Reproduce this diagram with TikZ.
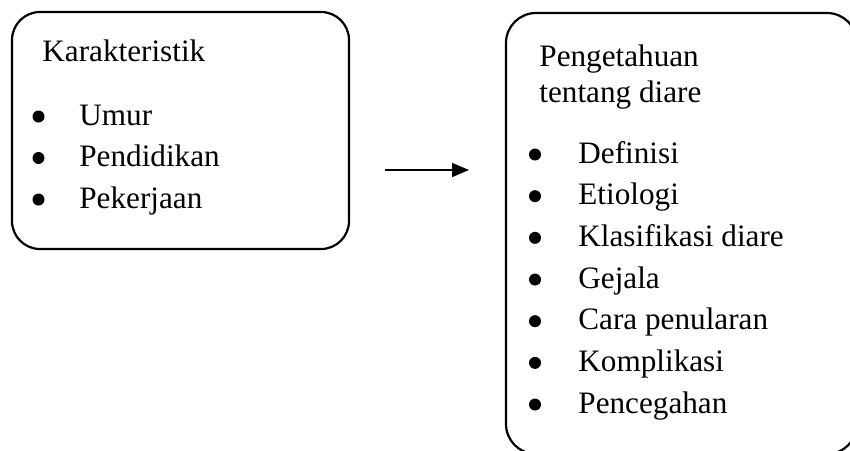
\documentclass[tikz,border=0pt]{standalone}
\usepackage{fontspec}
\setmainfont{Liberation Serif}
\usetikzlibrary{arrows.meta}
\begin{document}
\begin{tikzpicture}[
  x=0.5pt, y=-0.5pt,
  box/.style={draw, line width=1.1pt, rounded corners=14pt},
  head/.style={anchor=base west, inner sep=0pt, font=\fontsize{15.6}{18}\selectfont},
  item/.style={anchor=base west, inner sep=0pt, font=\fontsize{15.6}{18}\selectfont},
  dot/.style={circle, fill, inner sep=0pt, minimum size=6pt}
]
\useasboundingbox (0,0) rectangle (850,450);
\clip (0,0) rectangle (850,450);
% boxes
\draw[box] (12,12) rectangle (349,249);
\draw[box, rounded corners=15pt] (506,13) rectangle (857,454);
% left box
\node[head] (charHead) at (42,61) {Karakteristik};
\foreach \lab [count=\i] in {Umur,Pendidikan,Pekerjaan} {
  \node[dot] (charDot\i) at ({38.5},{116.5+41.5*(\i-1)}) {};
  \node[item] (charItem\i) at ({79},{125+41.5*(\i-1)}) {\lab};
}
% right box
\node[head] (knowHeadA) at (539,66) {Pengetahuan};
\node[head] (knowHeadB) at (539,102) {tentang diare};
\foreach \lab [count=\i] in {Definisi,Etiologi,Klasifikasi diare,Gejala,Cara penularan,Komplikasi,Pencegahan} {
  \node[dot] (knowDot\i) at ({535},{154.5+41.67*(\i-1)}) {};
  \node[item] (knowItem\i) at ({578},{163+41.67*(\i-1)}) {\lab};
}
% arrow
\coordinate (arrTail) at (385,170);
\coordinate (arrTip) at (469,170);
\draw[-{Triangle[length=8.5pt,width=7pt]}, line width=0.8pt] (arrTail) -- (arrTip);
\end{tikzpicture}
\end{document}
